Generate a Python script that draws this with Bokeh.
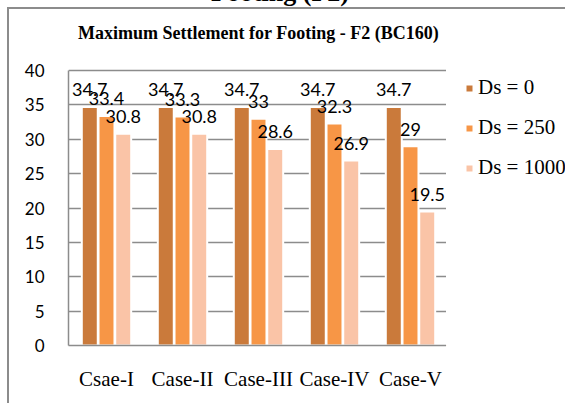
from bokeh.plotting import figure
from bokeh.models import (ColumnDataSource, FactorRange, Range1d, Legend, LegendItem, Div,
                          FixedTicker, Spacer, Label)
from bokeh.transform import dodge
from bokeh.layouts import column, row
from bokeh.embed import file_html
from bokeh.resources import INLINE
from bokeh.core.properties import value

# ---- data ----
cases = ["Csae-I", "Case-II", "Case-III", "Case-IV", "Case-V"]
series_names = ["Ds = 0", "Ds = 250", "Ds = 1000"]
ds_0 = [34.7, 34.7, 34.7, 34.7, 34.7]
ds_250 = [33.4, 33.3, 33, 32.3, 29]
ds_1000 = [30.8, 30.8, 28.6, 26.9, 19.5]
y_ticks = [0, 5, 10, 15, 20, 25, 30, 35, 40]
chart_title = "Maximum Settlement for Footing - F2 (BC160)"
page_heading = "Footing (F2)"

colors = ["#CA7A3B", "#F79646", "#FAC4A7"]
offsets = [-0.22, 0.0, 0.22]
GRID = "#8c8c8c"
BORDER = "2px solid #8c8c8c"

# main chart: frame spans the plotting area plus the title band above 40
p = figure(x_range=FactorRange(factors=cases), y_range=Range1d(0, 48),
           width=439, height=396, output_backend="svg", toolbar_location=None,
           min_border_left=59, min_border_right=0, min_border_top=6, min_border_bottom=60,
           styles={"border-left": BORDER, "border-top": BORDER})
p.outline_line_color = None
p.xgrid.grid_line_color = None
p.ygrid.grid_line_color = GRID
p.ygrid.grid_line_width = 1.5

p.yaxis.ticker = FixedTicker(ticks=y_ticks)
p.yaxis.bounds = (0, 40)
p.yaxis.axis_line_color = GRID
p.yaxis.axis_line_width = 1.5
p.yaxis.major_tick_line_color = None
p.yaxis.minor_tick_line_color = None
p.yaxis.major_tick_out = 0
p.yaxis.major_label_standoff = 24
p.yaxis.major_label_text_font = "Lato"
p.yaxis.major_label_text_font_size = "17px"
p.yaxis.major_label_text_color = "#000000"

p.xaxis.axis_line_color = GRID
p.xaxis.axis_line_width = 1.5
p.xaxis.major_tick_line_color = None
p.xaxis.minor_tick_line_color = None
p.xaxis.major_tick_out = 0
p.xaxis.major_label_standoff = 21
p.xaxis.major_label_text_font = "Liberation Serif"
p.xaxis.major_label_text_font_size = "21px"
p.xaxis.major_label_text_color = "#000000"

for name, vals, color, off in zip(series_names, [ds_0, ds_250, ds_1000], colors, offsets):
    src = ColumnDataSource(dict(x=cases, y=vals, label=[f"{v:g}" for v in vals]))
    p.vbar(x=dodge("x", off, range=p.x_range), top="y", width=0.21, source=src,
           fill_color=color, line_color="white", line_width=2)
    p.text(x=dodge("x", off, range=p.x_range), y="y", text="label", source=src,
           text_align="center", text_baseline="alphabetic", y_offset=-17,
           text_font=value("Lato"), text_font_size="18px", text_color="#000000")

p.add_layout(Label(x=2.5, y=45.4, text=chart_title, text_align="center", text_baseline="middle",
                   text_font="Liberation Serif", text_font_style="bold", text_font_size="18px",
                   text_color="#000000"))

# legend panel to the right of the chart (helper renderers sit outside its visible range)
p2 = figure(width=119, height=396, output_backend="svg", toolbar_location=None,
            x_range=Range1d(0, 1), y_range=Range1d(0, 1),
            x_axis_location=None, y_axis_location=None, min_border=0,
            styles={"border-top": BORDER})
p2.outline_line_color = None
p2.grid.visible = False
items = []
for name, color in zip(series_names, colors):
    r = p2.vbar(x=[-5], top=[-5], bottom=[-6], width=0.5, fill_color=color,
                line_color="white", line_width=2)
    items.append(LegendItem(label=name, renderers=[r]))
legend = Legend(items=items, location=(18, 165), padding=0, margin=0, spacing=15,
                label_height=24, glyph_height=10, glyph_width=10, label_standoff=4,
                border_line_color=None, background_fill_alpha=0,
                label_text_font="Liberation Serif", label_text_font_size="21px",
                label_text_color="#000000")
p2.add_layout(legend)

div = Div(text=page_heading, width=560, height=27, margin=(-20, 0, 0, 0),
          styles={"text-align": "center", "font-family": "'Liberation Serif'", "font-weight": "bold",
                  "font-size": "26px", "line-height": "26px", "color": "#000000"})

layout = column(div, row(Spacer(width=7, height=398), p, p2, spacing=0), spacing=0)
open("out.html", "w").write(file_html(layout, INLINE))
